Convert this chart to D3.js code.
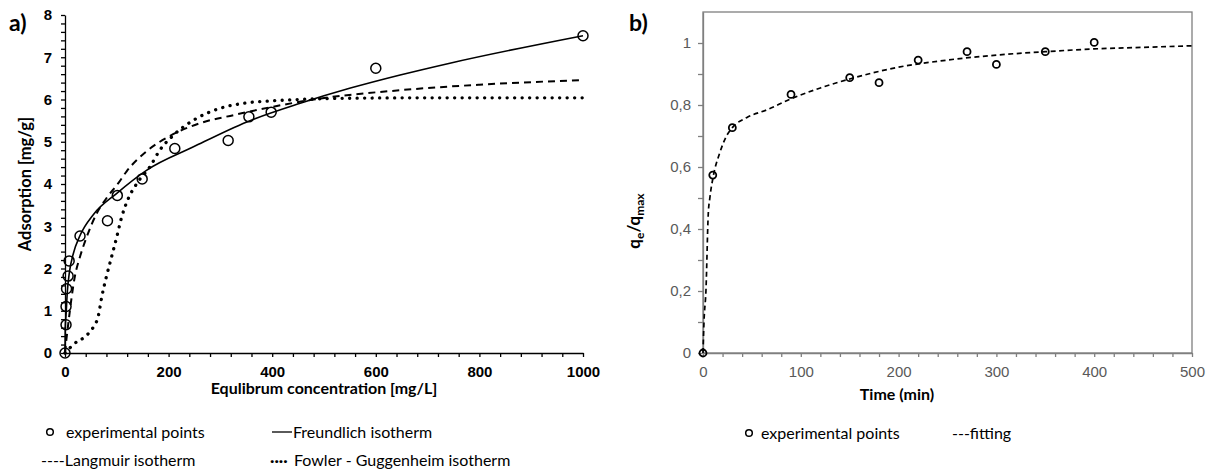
<!DOCTYPE html>
<html>
<head>
<meta charset="utf-8">
<script src="https://cdn.jsdelivr.net/npm/d3@7"></script>
<style>
  body { margin: 0; background: #fff; }
  svg { font-family: Lato, "Liberation Sans", sans-serif; }
  .axisA path, .axisA line { stroke: #000; stroke-width: 1.3; }
  .axisA text { font-size: 15px; font-weight: bold; fill: #000; }
  .axisB path, .axisB line { stroke: #7f7f7f; stroke-width: 1.3; }
  .axisB text { font-size: 15px; fill: #595959; }
  .title { font-size: 15.5px; font-weight: bold; fill: #000; }
  .legend { font-size: 16px; fill: #000; }
</style>
</head>
<body>
<div id="chart"></div>
<script>
// panel a) - adsorption isotherms
var expConc = [0, 2, 2, 3, 6, 8, 29, 82, 101, 149, 212, 315, 355, 398, 600, 1000];
var expAds = [0, 0.67, 1.1, 1.52, 1.82, 2.18, 2.77, 3.13, 3.73, 4.12, 4.84, 5.03, 5.59, 5.7, 6.74, 7.51];

var freundConc = [0, 0.5, 2, 4.5, 8.4, 16, 29, 55, 100, 158, 248, 351, 454, 551, 647, 743, 1000];
var freundAds = [0, 0.6, 0.9, 1.45, 1.9, 2.35, 2.78, 3.28, 3.78, 4.33, 4.88, 5.47, 5.91, 6.27, 6.58, 6.86, 7.51];

var langConc = [0, 3, 6.4, 19, 29, 42, 61, 81, 103, 119, 158, 203, 261, 325, 402, 480, 647, 800, 1000];
var langAds = [0, 0.35, 0.7, 1.81, 2.28, 2.75, 3.3, 3.68, 4.02, 4.3, 4.78, 5.14, 5.44, 5.63, 5.83, 6.0, 6.22, 6.35, 6.46];

var fowlConc = [0, 19, 39, 55, 64, 71, 80, 90, 100, 109, 122, 138, 164, 183, 209, 248, 299, 351, 402, 450, 550, 700, 1000];
var fowlAds = [0, 0.23, 0.39, 0.62, 0.86, 1.33, 1.81, 2.28, 2.75, 3.2, 3.65, 4.0, 4.41, 4.8, 5.15, 5.51, 5.79, 5.92, 5.97, 6.0, 6.03, 6.04, 6.04];

// panel b) - kinetics
var time = [0, 10, 30, 90, 150, 180, 220, 270, 300, 350, 400];
var ratio = [0, 0.574, 0.727, 0.834, 0.888, 0.872, 0.945, 0.972, 0.931, 0.972, 1.002];

var fitTime = [0, 1, 3, 5.4, 7, 10.5, 17, 24, 30, 45, 65, 90, 120, 150, 200, 250, 300, 350, 400, 450, 500];
var fitRatio = [0, 0.1, 0.2, 0.45, 0.5, 0.57, 0.644, 0.7, 0.727, 0.76, 0.784, 0.82, 0.855, 0.884, 0.922, 0.945, 0.961, 0.972, 0.981, 0.986, 0.991];

var svg = d3.select("#chart")
    .append("svg")
    .attr("width", 1213)
    .attr("height", 469);

function pairs(xs, ys) {
    return xs.map(function (x, i) { return [x, ys[i]]; });
}

//---------------- panel a ----------------
var widthA = 518, heightA = 338;
var gA = svg.append("g").attr("transform", "translate(65,15)");

var xA = d3.scaleLinear().domain([0, 1000]).range([0, widthA]);
var yA = d3.scaleLinear().domain([0, 8]).range([heightA, 0]);

gA.append("g")
    .attr("class", "axisA")
    .attr("transform", "translate(0," + heightA + ")")
    .call(d3.axisBottom(xA)
        .tickValues(d3.range(0, 1001, 40))
        .tickSizeInner(4).tickSizeOuter(0).tickPadding(9)
        .tickFormat(function (d) { return d % 200 === 0 ? d : ""; }));

gA.append("g")
    .attr("class", "axisA")
    .call(d3.axisLeft(yA)
        .tickValues(d3.range(0, 8.001, 0.2))
        .tickSizeInner(4).tickSizeOuter(0).tickPadding(9)
        .tickFormat(function (d) { return Math.abs(d - Math.round(d)) < 1e-6 ? Math.round(d) : ""; }));

var lineA = d3.line()
    .x(function (d) { return xA(d[0]); })
    .y(function (d) { return yA(d[1]); })
    .curve(d3.curveMonotoneX);

gA.append("path")
    .datum(pairs(fowlConc, fowlAds))
    .attr("fill", "none").attr("stroke", "#000")
    .attr("stroke-width", 3.3)
    .attr("stroke-linecap", "round")
    .attr("stroke-dasharray", "0.1 7.4")
    .attr("d", lineA);

gA.append("path")
    .datum(pairs(langConc, langAds))
    .attr("fill", "none").attr("stroke", "#000")
    .attr("stroke-width", 2)
    .attr("stroke-dasharray", "7 5")
    .attr("d", lineA);

gA.append("path")
    .datum(pairs(freundConc, freundAds))
    .attr("fill", "none").attr("stroke", "#000")
    .attr("stroke-width", 1.6)
    .attr("d", lineA);

gA.selectAll(".ptA")
    .data(pairs(expConc, expAds))
    .enter()
    .append("circle")
    .attr("class", "ptA")
    .attr("cx", function (d) { return xA(d[0]); })
    .attr("cy", function (d) { return yA(d[1]); })
    .attr("r", 5)
    .attr("fill", "none")
    .attr("stroke", "#000")
    .attr("stroke-width", 1.5);

svg.append("text")
    .attr("class", "title")
    .attr("transform", "translate(31," + (15 + heightA / 2) + ") rotate(-90)")
    .attr("text-anchor", "middle")
    .style("font-size", "16.5px")
    .text("Adsorption [mg/g]");

svg.append("text")
    .attr("class", "title")
    .attr("x", 65 + widthA / 2)
    .attr("y", 394)
    .attr("text-anchor", "middle")
    .style("font-size", "16px")
    .text("Equlibrum concentration [mg/L]");

svg.append("text")
    .attr("x", 9).attr("y", 31)
    .style("font-size", "23px").style("font-weight", "bold")
    .text("a)");

//legend a
svg.append("circle")
    .attr("cx", 50).attr("cy", 432).attr("r", 3.3)
    .attr("fill", "none").attr("stroke", "#000").attr("stroke-width", 1.5);
svg.append("text").attr("class", "legend").attr("x", 66).attr("y", 438).text("experimental points");
svg.append("line")
    .attr("x1", 272).attr("x2", 292).attr("y1", 432).attr("y2", 432)
    .attr("stroke", "#000").attr("stroke-width", 1.3);
svg.append("text").attr("class", "legend").attr("x", 293).attr("y", 438).text("Freundlich isotherm");
svg.append("text").attr("class", "legend").attr("x", 41).attr("y", 466).text("----Langmuir isotherm");
svg.append("text").attr("class", "legend").attr("x", 270).attr("y", 466)
    .style("font-weight", "bold").text("\u00b7\u00b7\u00b7\u00b7");
svg.append("text").attr("class", "legend").attr("x", 294).attr("y", 466).text("Fowler - Guggenheim isotherm");

//---------------- panel b ----------------
var widthB = 489, heightB = 341;
var gB = svg.append("g").attr("transform", "translate(703,12)");

var xB = d3.scaleLinear().domain([0, 500]).range([0, widthB]);
var yB = d3.scaleLinear().domain([0, 1.1]).range([heightB, 0]);

gB.append("rect")
    .attr("width", widthB).attr("height", heightB)
    .attr("fill", "none").attr("stroke", "#7f7f7f").attr("stroke-width", 1.3);

gB.append("g")
    .attr("class", "axisB")
    .attr("transform", "translate(0," + heightB + ")")
    .call(d3.axisBottom(xB)
        .tickValues(d3.range(0, 501, 20))
        .tickSizeInner(4).tickSizeOuter(0).tickPadding(9)
        .tickFormat(function (d) { return d % 100 === 0 ? d : ""; }));

gB.append("g")
    .attr("class", "axisB")
    .call(d3.axisLeft(yB)
        .tickValues(d3.range(0, 1.001, 0.1))
        .tickSizeInner(5).tickSizeOuter(0).tickPadding(7)
        .tickFormat(function (d) {
            var r = Math.round(d * 10);
            return r % 2 === 0 ? String(r / 10).replace(".", ",") : "";
        }));

var lineB = d3.line()
    .x(function (d) { return xB(d[0]); })
    .y(function (d) { return yB(d[1]); })
    .curve(d3.curveMonotoneX);

gB.append("path")
    .datum(pairs(fitTime, fitRatio))
    .attr("fill", "none").attr("stroke", "#000")
    .attr("stroke-width", 1.7)
    .attr("stroke-dasharray", "5 3.5")
    .attr("d", lineB);

gB.selectAll(".ptB")
    .data(pairs(time, ratio))
    .enter()
    .append("circle")
    .attr("class", "ptB")
    .attr("cx", function (d) { return xB(d[0]); })
    .attr("cy", function (d) { return yB(d[1]); })
    .attr("r", 3.5)
    .attr("fill", "none")
    .attr("stroke", "#000")
    .attr("stroke-width", 1.8);

var yTitle = svg.append("text")
    .attr("class", "title")
    .attr("transform", "translate(640,221) rotate(-90)")
    .attr("text-anchor", "middle")
    .style("font-size", "17px");
yTitle.append("tspan").text("q");
yTitle.append("tspan").attr("dy", 4).style("font-size", "12px").text("e");
yTitle.append("tspan").attr("dy", -4).text("/q");
yTitle.append("tspan").attr("dy", 4).style("font-size", "12px").text("max");

svg.append("text")
    .attr("class", "title")
    .attr("x", 897)
    .attr("y", 400)
    .attr("text-anchor", "middle")
    .style("font-size", "16px")
    .text("Time (min)");

svg.append("text")
    .attr("x", 629).attr("y", 31)
    .style("font-size", "23px").style("font-weight", "bold")
    .text("b)");

//legend b
svg.append("circle")
    .attr("cx", 749).attr("cy", 433).attr("r", 3.3)
    .attr("fill", "none").attr("stroke", "#000").attr("stroke-width", 1.5);
svg.append("text").attr("class", "legend").attr("x", 761).attr("y", 439).text("experimental points");
svg.append("text").attr("class", "legend").attr("x", 952).attr("y", 439).text("---fitting");
</script>
</body>
</html>
